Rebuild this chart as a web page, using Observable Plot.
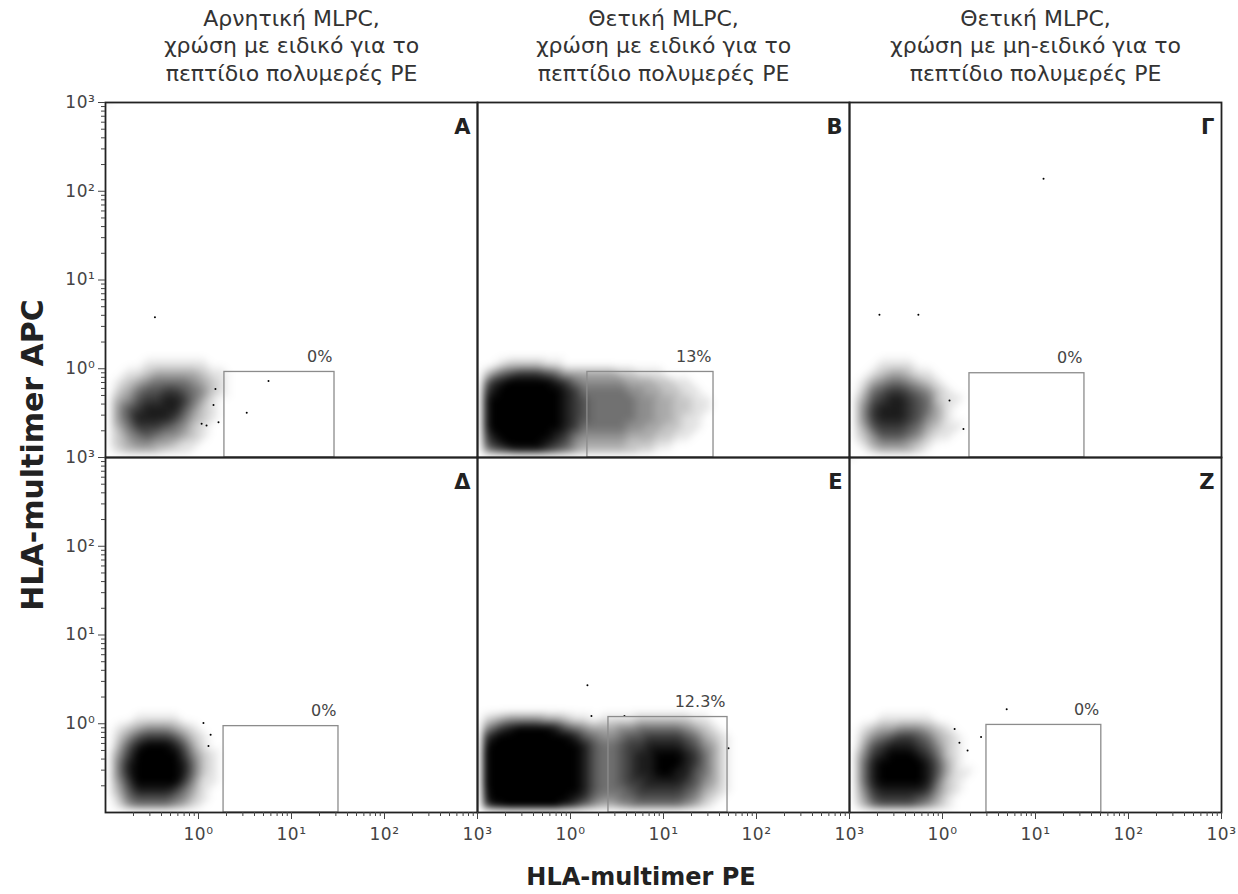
<!DOCTYPE html>
<html><head><meta charset="utf-8">
<script src="https://cdn.jsdelivr.net/npm/d3@7"></script>
<script src="https://cdn.jsdelivr.net/npm/@observablehq/plot@0.6"></script>
<style>
body{margin:0;background:#fff;}
#wrap{position:relative;width:1238px;height:894px;overflow:hidden;font-family:"DejaVu Sans",sans-serif;background:#fff;}
#chart{position:absolute;left:0;top:0;}
#ylab{position:absolute;left:33px;top:455px;transform:translate(-50%,-50%) rotate(-90deg);font-weight:bold;font-size:30px;line-height:30px;white-space:nowrap;color:#222;}
#xlab{position:absolute;left:641px;top:865px;transform:translateX(-50%);font-weight:bold;font-size:24px;line-height:24px;white-space:nowrap;color:#222;}
#chart g[aria-label="x-axis tick label"] text, #chart g[aria-label="y-axis tick label"] text{letter-spacing:0.6px;}
</style></head>
<body><div id="wrap"><div id="chart"></div><div id="ylab">HLA-multimer APC</div><div id="xlab">HLA-multimer PE</div></div>
<script>
// ---- data ----
const columnTitles = [
  "Αρνητική MLPC,\nχρώση με ειδικό για το\nπεπτίδιο πολυμερές PE",
  "Θετική MLPC,\nχρώση με ειδικό για το\nπεπτίδιο πολυμερές PE",
  "Θετική MLPC,\nχρώση με μη-ειδικό για το\nπεπτίδιο πολυμερές PE"
];
const panelLetters = ["Α", "Β", "Γ", "Δ", "Ε", "Ζ"];
const panelCol = [0, 1, 2, 0, 1, 2];
const panelRow = [0, 0, 0, 1, 1, 1];
const gateLow = [1.9, 1.52, 1.95, 1.86, 2.56, 2.97];
const gateHigh = [29, 34.5, 33.6, 32, 48.8, 51];
const gateTop = [0.92, 0.92, 0.89, 0.94, 1.19, 0.97];
const gatePercent = ["0%", "13%", "0%", "0%", "12.3%", "0%"];
const majorTicks = [1, 10, 100, 1000];
const minorTicks = [0.2,0.3,0.4,0.5,0.6,0.7,0.8,0.9, 2,3,4,5,6,7,8,9, 20,30,40,50,60,70,80,90, 200,300,400,500,600,700,800,900];
const tickLabels = ["10⁰", "10¹", "10²", "10³"];

// Estimated event density (0 = none … 9 = saturated) in 0.1-decade cells,
// starting at 10^-1 on both axes; rows listed from top to bottom.
const densityA = [
  "000000000000000",
  "000011111110000",
  "001123333321100",
  "012345555432100",
  "023566776542100",
  "134677887531000",
  "146788886421000",
  "146888875321000",
  "135777654210000",
  "124565443210000",
  "123443321100000",
  "012222111000000"
];
const densityB = [
  "0000000000000000000000000000",
  "0012222110000000000000000000",
  "1356777653333332211100000000",
  "3789999987544444333221100000",
  "5899999998755555443322110000",
  "6999999998765555544332211000",
  "6999999998765555544332211000",
  "6999999998765555544332110000",
  "6999999998755555443322110000",
  "5899999987544444333221100000",
  "4789999876433333222110000000",
  "2456777654322222211000000000"
];
const densityG = [
  "00000000000000",
  "00011110000000",
  "00123321100000",
  "01345543210000",
  "02567765421000",
  "13678876521100",
  "14788876531000",
  "14788876431000",
  "13677765321100",
  "12466654211000",
  "01344432100000",
  "00122221000000"
];
const densityD = [
  "00000000000000",
  "00011111000000",
  "01234443210000",
  "02467776421000",
  "03689998631000",
  "14799999742100",
  "15899999852100",
  "15899999852100",
  "14799999741100",
  "13688887531000",
  "02566665421000",
  "01344443210000"
];
const densityE = [
  "00000000000000000000000000000",
  "00000000000000000000000000000",
  "12344443321101111222222110000",
  "35789999865433344555554321000",
  "68999999998654456677776532100",
  "79999999999865567788887643100",
  "89999999999865567889998753100",
  "89999999999865567889998753100",
  "89999999999865567889988653100",
  "89999999999865567788887643100",
  "79999999999865556777776532100",
  "69999999998754455666665421000",
  "47899999976432234444443210000"
];
const densityZ = [
  "00000000000000",
  "00011111100000",
  "01233444321000",
  "02456776532100",
  "03678887642100",
  "14789998752100",
  "15899999863100",
  "15899999863110",
  "15899999852100",
  "14788888742100",
  "13677776531000",
  "02455554321000"
];
const densityGrids = [densityA, densityB, densityG, densityD, densityE, densityZ];

// isolated events outside the clouds
const outlierPanel = [0,0,0,0,0,0,0,0, 2,2,2,2,2, 3,3,3, 4,4,4,4, 5,5,5,5,5];
const outlierX = [0.34, 5.66, 3.3, 1.52, 1.45, 1.08, 1.64, 1.22, 12.2, 0.21, 0.55, 1.19, 1.68, 1.28, 1.13, 1.35, 1.52, 1.68, 3.8, 50, 4.9, 1.52, 1.86, 2.6, 1.35];
const outlierY = [3.8, 0.73, 0.32, 0.59, 0.39, 0.24, 0.25, 0.23, 138, 4.07, 4.07, 0.44, 0.21, 0.56, 1.02, 0.75, 2.72, 1.22, 1.22, 0.53, 1.46, 0.61, 0.5, 0.71, 0.87];

// ---- build tables ----
const cells = [];
densityGrids.forEach((rows, p) => {
  const n = rows.length;
  rows.forEach((line, r) => {
    const j = n - 1 - r;
    for (let i = 0; i < line.length; ++i) {
      cells.push({col: panelCol[p], row: panelRow[p],
        x: Math.pow(10, -1 + (i + 0.5) / 10), y: Math.pow(10, -1 + (j + 0.5) / 10), level: +line[i]});
    }
  });
});
const panels = panelLetters.map((letter, p) => ({
  letter, col: panelCol[p], row: panelRow[p], lo: gateLow[p], hi: gateHigh[p], top: gateTop[p], pct: gatePercent[p]
}));
const outliers = outlierPanel.map((p, k) => ({col: panelCol[p], row: panelRow[p], x: outlierX[k], y: outlierY[k]}));
const titles = columnTitles.map((title, c) => ({col: c, row: 0, title}));
const fmt = d => tickLabels[majorTicks.indexOf(d)] ?? "";

const chart = Plot.plot({
  width: 1238, height: 894,
  marginLeft: 104, marginRight: 16, marginTop: 102, marginBottom: 82,
  style: {fontFamily: "DejaVu Sans, sans-serif", background: "white", overflow: "visible"},
  fx: {domain: [0, 1, 2], padding: 0, axis: null},
  fy: {domain: [0, 1], padding: 0, axis: null},
  x: {type: "log", domain: [0.1, 1000]},
  y: {type: "log", domain: [0.1, 1000]},
  color: {type: "linear", domain: [0, 9], range: ["#ffffff", "#000000"], clamp: true},
  marks: [
    Plot.raster(cells, {x: "x", y: "y", fill: "level", fx: "col", fy: "row", interpolate: "barycentric", blur: 3}),
    Plot.dot(outliers, {x: "x", y: "y", fx: "col", fy: "row", r: 1, fill: "#000"}),
    Plot.rect(panels, {x1: "lo", x2: "hi", y1: () => 0.1, y2: "top", fx: "col", fy: "row", fill: "none", stroke: "#8c8c8c", strokeWidth: 1.3}),
    Plot.text(panels, {x: "hi", y: "top", text: "pct", fx: "col", fy: "row", textAnchor: "end", dx: -2, dy: -15, fontSize: 16, fill: "#444"}),
    Plot.text(panels, {text: "letter", fx: "col", fy: "row", frameAnchor: "top-right", dx: -7, dy: 17, fontSize: 21, fontWeight: "bold", fill: "#222"}),
    Plot.frame({stroke: "#222", strokeWidth: 1.8}),
    Plot.axisX({ticks: majorTicks, tickFormat: fmt, tickSize: 7, tickPadding: 8, fontSize: 17, color: "#444", label: null}),
    Plot.axisX({ticks: minorTicks, tickFormat: () => "", tickSize: 4, color: "#444", label: null}),
    Plot.axisY({ticks: majorTicks, tickFormat: fmt, tickSize: 7, tickPadding: 3, fontSize: 17, color: "#444", label: null}),
    Plot.axisY({ticks: minorTicks, tickFormat: () => "", tickSize: 4, color: "#444", label: null}),
    Plot.text(titles, {fx: "col", fy: "row", text: "title", frameAnchor: "top", lineAnchor: "bottom", dy: -22, fontSize: 22, lineHeight: 1.25, fill: "#333"})
  ]
});
document.getElementById("chart").appendChild(chart);
</script>
</body></html>
